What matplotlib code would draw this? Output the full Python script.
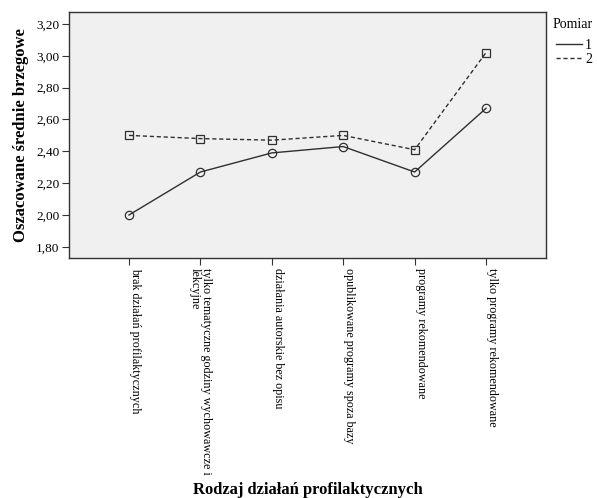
import matplotlib.pyplot as plt

plt.rcParams['font.family'] = ['Liberation Serif', 'DejaVu Serif']

# Categories and estimated marginal means
categories = [
    "brak działań profilaktycznych",
    "tylko tematyczne godziny wychowawcze i\nlekcyjne",
    "działania autorskie bez opisu",
    "opublikowane programy spoza bazy",
    "programy rekomendowane",
    "tylko programy rekomendowane",
]
pomiar_1 = [2.00, 2.27, 2.39, 2.43, 2.27, 2.67]
pomiar_2 = [2.50, 2.48, 2.47, 2.50, 2.41, 3.02]
yticks = [1.80, 2.00, 2.20, 2.40, 2.60, 2.80, 3.00, 3.20]

fig = plt.figure(figsize=(5.97, 4.98), dpi=100)
ax = fig.add_axes([69/597, 1-258/498, (546-69)/597, (258-12)/498])
ax.set_facecolor('#f0f0f0')

x = list(range(len(categories)))
ax.plot(x, pomiar_1, '-', color='#303030', lw=1.0, marker='o', ms=6,
        mfc='none', mec='#303030', mew=0.9, label='1')
ax.plot(x, pomiar_2, '--', color='#303030', lw=1.0, marker='s', ms=6,
        mfc='none', mec='#303030', mew=0.9, label='2', dashes=(3, 2))

ax.set_xlim(-0.84, 5.84)
ax.set_ylim(1.73, 3.275)
ax.set_yticks(yticks)
ax.set_yticklabels([f"{v:.2f}".replace('.', ',') for v in yticks], fontsize=9.5)
ax.set_xticks(x)
ax.set_xticklabels(categories, rotation=270, fontsize=8.7, va='top')
for lab in ax.get_xticklabels():
    lab.set_ha('center' if '\n' in lab.get_text() else 'left')
    lab.set_multialignment('left')
    lab.set_linespacing(0.95)
ax.tick_params(direction='out', length=5, width=0.8, color='#333333', pad=2)

for s in ax.spines.values():
    s.set_color('#333333')
    s.set_linewidth(1.0)

ax.set_ylabel("Oszacowane średnie brzegowe", fontsize=12, fontweight='bold', labelpad=5)
fig.text((69+546)/2/597, 1-490/498, "Rodzaj działań profilaktycznych",
         fontsize=12, fontweight='bold', ha='center', va='center')

fig.text(553/597, 1-25/498, "Pomiar", fontsize=10, ha='left', va='center')
leg = fig.legend(loc='upper left', bbox_to_anchor=(556/597, 1-39/498),
                 frameon=False, fontsize=10, handlelength=1.9,
                 handletextpad=0.2, labelspacing=0.05, borderpad=0, borderaxespad=0)
for h in leg.get_lines():
    h.set_marker('')

fig.savefig('out.png', dpi=100)
